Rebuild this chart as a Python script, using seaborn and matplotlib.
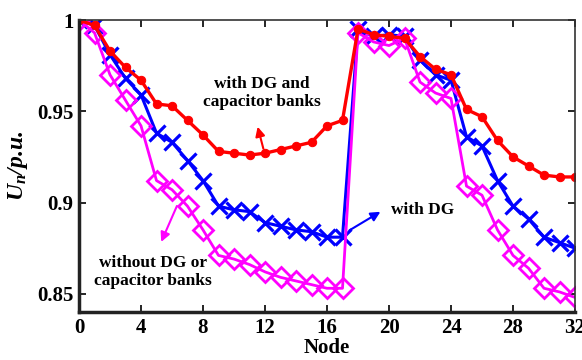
import numpy as np
import pandas as pd
import seaborn as sns
import matplotlib
matplotlib.use("Agg")
import matplotlib.pyplot as plt

nodes = list(range(33))
with_dg_cap = [1.000, 0.997, 0.983, 0.974, 0.967, 0.954, 0.953, 0.945, 0.937, 0.928,
               0.927, 0.926, 0.927, 0.929, 0.931, 0.933, 0.942, 0.945, 0.995, 0.992,
               0.991, 0.990, 0.980, 0.973, 0.970, 0.951, 0.947, 0.934, 0.925, 0.920,
               0.915, 0.914, 0.914]
with_dg = [1.000, 0.997, 0.981, 0.968, 0.959, 0.938, 0.933, 0.923, 0.912, 0.898,
           0.896, 0.895, 0.889, 0.887, 0.885, 0.884, 0.881, 0.881, 0.995, 0.991,
           0.992, 0.991, 0.978, 0.970, 0.967, 0.936, 0.931, 0.912, 0.898, 0.891,
           0.881, 0.878, 0.875]
without_dg = [1.000, 0.993, 0.970, 0.956, 0.942, 0.912, 0.907, 0.898, 0.885, 0.871,
              0.869, 0.866, 0.862, 0.859, 0.857, 0.855, 0.853, 0.853, 0.993, 0.988,
              0.986, 0.990, 0.966, 0.960, 0.957, 0.909, 0.904, 0.885, 0.871, 0.864,
              0.853, 0.851, 0.848]
xticks = [0, 4, 8, 12, 16, 20, 24, 28, 32]
yticks = [0.85, 0.9, 0.95, 1.0]
ytick_labels = ["0.85", "0.9", "0.95", "1"]

sns.set_style("ticks")
plt.rcParams['font.family'] = ['Liberation Serif', 'DejaVu Serif']
plt.rcParams['font.weight'] = 'bold'
plt.rcParams['mathtext.fontset'] = 'custom'
plt.rcParams['mathtext.it'] = 'Liberation Serif:italic:bold'
plt.rcParams['mathtext.rm'] = 'Liberation Serif:bold'
plt.rcParams['text.color'] = 'black'
plt.rcParams['axes.labelcolor'] = 'black'
plt.rcParams['xtick.color'] = 'black'
plt.rcParams['ytick.color'] = 'black'

fig = plt.figure(figsize=(5.82, 3.6), dpi=100)
ax = fig.add_axes([79/582, 1-312/360, (575-79)/582, (312-20)/360])

sns.lineplot(x=nodes, y=with_dg, ax=ax, color='#0000FF', lw=2.2, marker='x',
             markersize=12, markeredgewidth=2.3, markeredgecolor='#0000FF')
sns.lineplot(x=nodes, y=without_dg, ax=ax, color='#FF00FF', lw=2.0, marker='D',
             markersize=10.5, markeredgewidth=2.0, markerfacecolor='none',
             markeredgecolor='#FF00FF')
sns.lineplot(x=nodes, y=with_dg_cap, ax=ax, color='#FF0000', lw=2.4, marker='o',
             markersize=6, markeredgecolor='#FF0000')

ax.set_xlim(0, 32)
ax.set_ylim(0.84, 1.0)
ax.set_xticks(xticks)
ax.set_xticklabels([str(t) for t in xticks])
ax.set_yticks(yticks)
ax.set_yticklabels(ytick_labels)
ax.tick_params(direction='in', top=True, right=True, length=5, width=1.2,
               labelsize=15, pad=4, colors='black')
for lab in ax.get_xticklabels() + ax.get_yticklabels():
    lab.set_fontweight('bold')
for s in ['left', 'bottom']:
    ax.spines[s].set_linewidth(2.5)
    ax.spines[s].set_color('#222222')
for s in ['top', 'right']:
    ax.spines[s].set_linewidth(1.2)
    ax.spines[s].set_color('#333333')

ax.set_xlabel('Node', fontsize=15, fontweight='bold', labelpad=0)
ax.set_ylabel(r'$U_n$/p.u.', fontsize=17, fontweight='bold', fontstyle='italic',
              labelpad=5)

afs = 12.5
ax.annotate('', xy=(11.48, 0.943), xytext=(11.94, 0.928),
            arrowprops=dict(arrowstyle='-|>', color='#FF0000', lw=1.5, mutation_scale=14))
ax.text(11.8, 0.960, 'with DG and\ncapacitor banks', ha='center', va='center',
        fontsize=afs, fontweight='bold', linespacing=1.2)
ax.annotate('', xy=(19.6, 0.8957), xytext=(17.3, 0.884),
            arrowprops=dict(arrowstyle='-|>', color='#0000FF', lw=1.5, mutation_scale=14))
ax.text(20.1, 0.8957, 'with DG', ha='left', va='center', fontsize=afs, fontweight='bold')
ax.annotate('', xy=(5.23, 0.877), xytext=(6.39, 0.8995),
            arrowprops=dict(arrowstyle='-|>', color='#FF00FF', lw=1.5, mutation_scale=14))
ax.text(4.77, 0.862, 'without DG or\ncapacitor banks', ha='center', va='center',
        fontsize=afs, fontweight='bold', linespacing=1.2)

fig.savefig('out.png', dpi=100)
